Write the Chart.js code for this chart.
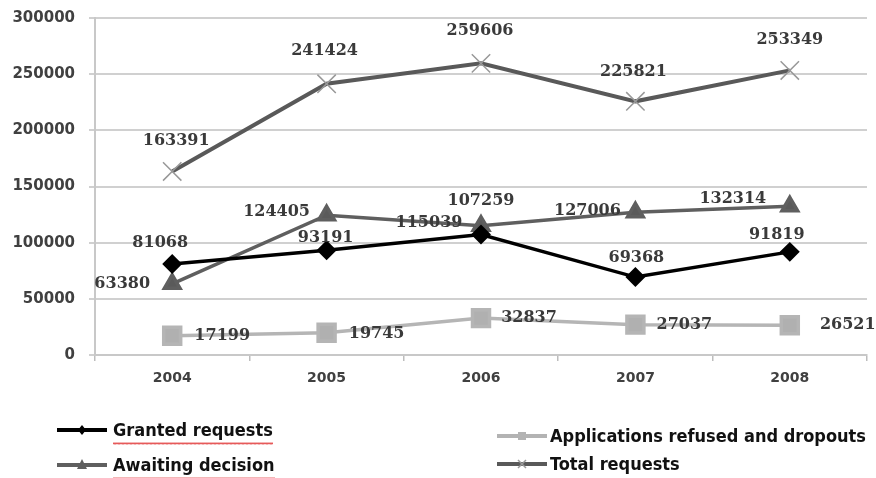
<!DOCTYPE html>
<html>
<head>
<meta charset="utf-8">
<script src="https://cdn.jsdelivr.net/npm/chart.js@4"></script>
<style>
  html, body { margin: 0; padding: 0; background: #fff; }
  #wrap { position: relative; width: 876px; height: 478px; overflow: hidden; }
  canvas { position: absolute; left: 0; top: 0; }
  .leg { position: absolute; height: 24px; line-height: 24px; font-family: "Liberation Sans Narrow", "DejaVu Sans Condensed", sans-serif; font-weight: bold; font-size: 18px; color: #111; white-space: nowrap; }
  .leg svg { position: absolute; left: 0; top: 4px; }
  .leg span { position: absolute; left: 56px; top: 0; }
  .wavy { padding-bottom: 3px; background-repeat: repeat-x; background-position: left bottom; background-size: 4px 3px;
    background-image: url("data:image/svg+xml,%3Csvg xmlns='http://www.w3.org/2000/svg' width='4' height='3'%3E%3Cpath d='M0,2.5 L1,0.5 L2,2.5 L3,0.5 L4,2.5' fill='none' stroke='%23e03030' stroke-width='0.8'/%3E%3C/svg%3E"); }
</style>
</head>
<body>
<div id="wrap">
  <canvas id="c" width="876" height="478"></canvas>
  <div class="leg" style="left:57px; top:418px; width:260px;">
    <svg width="52" height="16"><line x1="0" y1="8" x2="50" y2="8" stroke="#000" stroke-width="4"/><polygon points="25,3 29,8 25,13 21,8" fill="#000"/></svg>
    <span class="wavy">Granted requests</span>
  </div>
  <div class="leg" style="left:57px; top:453px; width:260px;">
    <svg width="52" height="16"><line x1="0" y1="8" x2="50" y2="8" stroke="#5f5f5f" stroke-width="4"/><polygon points="25,2 30,12 20,12" fill="#5f5f5f"/></svg>
    <span class="wavy">Awaiting decision</span>
  </div>
  <div class="leg" style="left:497px; top:424px; width:380px;">
    <svg width="52" height="16"><line x1="0" y1="8" x2="50" y2="8" stroke="#b3b3b3" stroke-width="4"/><rect x="21" y="4" width="8" height="8" fill="#b3b3b3"/></svg>
    <span style="left:53px">Applications refused and dropouts</span>
  </div>
  <div class="leg" style="left:497px; top:452px; width:260px;">
    <svg width="52" height="16"><line x1="0" y1="8" x2="50" y2="8" stroke="#595959" stroke-width="4"/><path d="M21,4 L29,12 M29,4 L21,12" stroke="#999" stroke-width="1.5"/></svg>
    <span style="left:53px">Total requests</span>
  </div>
</div>
<script>
const categories = ["2004", "2005", "2006", "2007", "2008"];
const grantedRequests = [81068, 93191, 107259, 69368, 91819];
const awaitingDecision = [63380, 124405, 115039, 127006, 132314];
const refusedAndDropouts = [17199, 19745, 32837, 27037, 26521];
const totalRequests = [163391, 241424, 259606, 225821, 253349];
const yTicks = [0, 50000, 100000, 150000, 200000, 250000, 300000];

// label offsets (px) relative to each point, per dataset
const labelOffsets = [
  [[-12, -21], [-1, -12], [0, -34], [1, -19], [-13, -17]],
  [[-50, 0], [-50, -3], [-52, -3], [-48, -1], [-57, -8]],
  [[50, 0], [50, 1], [48, 0], [49, 0], [58, 0]],
  [[4, -31], [-2, -33], [-1, -33], [-2, -29], [0, -31]]
];

const dataLabels = {
  id: 'dataLabels',
  afterDatasetsDraw(chart) {
    const ctx = chart.ctx;
    ctx.save();
    ctx.font = 'bold 16px "DejaVu Serif", "Liberation Serif", serif';
    ctx.fillStyle = '#3a3a3a';
    ctx.textAlign = 'center';
    ctx.textBaseline = 'middle';
    chart.data.datasets.forEach((ds, i) => {
      const meta = chart.getDatasetMeta(i);
      meta.data.forEach((pt, j) => {
        const off = labelOffsets[i][j];
        ctx.fillText(String(ds.data[j]), pt.x + off[0], pt.y + off[1]);
      });
    });
    ctx.restore();
  }
};

new Chart(document.getElementById('c'), {
  type: 'line',
  data: {
    labels: categories,
    datasets: [
      { label: 'Granted requests', data: grantedRequests, borderColor: '#000', backgroundColor: '#000', borderWidth: 3.5, pointStyle: 'rectRot', pointRadius: 7.5, pointHoverRadius: 7.5, tension: 0 },
      { label: 'Awaiting decision', data: awaitingDecision, borderColor: '#5f5f5f', backgroundColor: '#5a5a5a', borderWidth: 3.5, pointStyle: 'triangle', pointRadius: 9, pointHoverRadius: 9, tension: 0 },
      { label: 'Applications refused and dropouts', data: refusedAndDropouts, borderColor: '#b5b5b5', backgroundColor: '#b0b0b0', borderWidth: 3.5, pointStyle: 'rect', pointRadius: 12, pointHoverRadius: 12, tension: 0 },
      { label: 'Total requests', data: totalRequests, borderColor: '#595959', backgroundColor: '#999', pointBorderColor: '#999', pointBorderWidth: 1.5, borderWidth: 4, pointStyle: 'crossRot', pointRadius: 13, pointHoverRadius: 13, tension: 0 }
    ]
  },
  options: {
    responsive: false,
    animation: false,
    events: [],
    layout: { autoPadding: false, padding: { top: 18, right: 9, left: 0, bottom: 0 } },
    plugins: { legend: { display: false }, tooltip: { enabled: false } },
    scales: {
      x: {
        type: 'category',
        offset: true,
        grid: { offset: true, drawOnChartArea: false, color: '#bdbdbd', tickLength: 6, lineWidth: 1.5 },
        border: { color: '#c8c8c8', width: 2 },
        ticks: { color: '#404040', font: { family: '"DejaVu Sans", sans-serif', weight: 'bold', size: 14 }, padding: 9 },
        afterFit(scale) { scale.height = 123; scale.paddingLeft = 0; scale.paddingRight = 0; }
      },
      y: {
        min: 0, max: 300000,
        afterBuildTicks(scale) { scale.ticks = yTicks.map(v => ({ value: v })); },
        grid: { color: '#d0d0d0', lineWidth: 2, tickLength: 6 },
        border: { color: '#c8c8c8', width: 2 },
        ticks: { color: '#404040', font: { family: '"DejaVu Sans", sans-serif', weight: 'bold', size: 15 }, padding: 14, callback: (v) => String(v) },
        afterFit(scale) { scale.width = 95; scale.paddingTop = 0; scale.paddingBottom = 0; }
      }
    }
  },
  plugins: [dataLabels]
});
</script>
</body>
</html>
